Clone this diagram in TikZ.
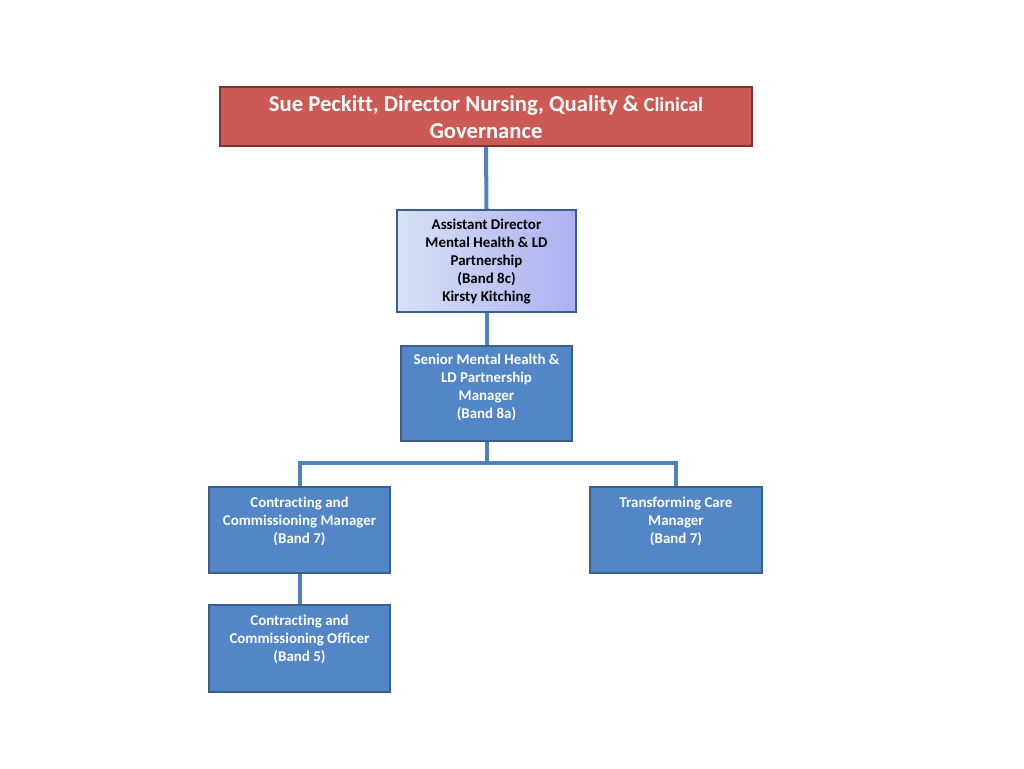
\documentclass[tikz,border=0pt]{standalone}
\usepackage{fontspec}
\setmainfont{Carlito}[Ligatures={NoCommon}]
\usetikzlibrary{positioning}
\definecolor{redfill}{HTML}{CD5955}
\definecolor{redline}{HTML}{7E3331}
\definecolor{bluefill}{HTML}{5286C6}
\definecolor{blueline}{HTML}{3A5F8C}
\definecolor{conn}{HTML}{4F81BD}
\definecolor{lightA}{HTML}{D6E2F5}
\definecolor{lightB}{HTML}{ADB0F0}
\tikzset{
  x=0.75pt, y=-0.75pt,
  box/.style={draw=blueline, line width=1.6pt, fill=bluefill, inner sep=0pt},
  redbox/.style={draw=redline, line width=1.6pt, fill=redfill, inner sep=0pt},
  lightbox/.style={draw=blueline, line width=1.6pt, left color=lightA, right color=lightB, inner sep=0pt},
  txt/.style={anchor=north, inner sep=0pt, align=center, font=\bfseries\fontsize{11.2pt}{13.5pt}\selectfont, text=white},
  link/.style={draw=conn, line width=3pt},
}
\begin{document}
\begin{tikzpicture}
\useasboundingbox (0,0) rectangle (1024,768);
% boxes
\node[redbox, minimum width=532*0.75pt, minimum height=59*0.75pt] (top) at (486,116.5) {};
\node[lightbox, minimum width=179*0.75pt, minimum height=102*0.75pt] (ad) at (486.5,261) {};
\node[box, minimum width=171*0.75pt, minimum height=95*0.75pt] (sen) at (486.5,393.5) {};
\node[box, minimum width=181*0.75pt, minimum height=86*0.75pt] (ccm) at (299.5,530) {};
\node[box, minimum width=172*0.75pt, minimum height=86*0.75pt] (tcm) at (676,530) {};
\node[box, minimum width=181*0.75pt, minimum height=87*0.75pt] (cco) at (299.5,648.5) {};
% connectors
\coordinate (bus) at (486.5,463);
\draw[link] (top.south) -- (ad.north);
\draw[link] (ad.south) -- (sen.north);
\draw[link] (sen.south) -- (bus);
\draw[link] (ccm.north) |- (bus) -| (tcm.north);
\draw[link] (ccm.south) -- (cco.north);
% texts
\node[txt, font=\bfseries\fontsize{17pt}{20.25pt}\selectfont] (ttop) at (486,95)
  {Sue Peckitt, Director Nursing, Quality \& {\fontsize{15pt}{20.25pt}\selectfont Clinical}\\Governance};
\node[txt, text=black] (tad) at (486.5,219) {Assistant Director\\Mental Health \& LD\\Partnership\\ (Band 8c)\\Kirsty Kitching};
\node[txt] (tsen) at (486.5,354) {Senior Mental Health \&\\LD Partnership\\Manager\\(Band 8a)};
\node[txt] (tccm) at (299.5,497) {Contracting and\\Commissioning Manager\\(Band 7)};
\node[txt] (ttcm) at (676,497) {Transforming Care\\Manager\\(Band 7)};
\node[txt] (tcco) at (299.5,615) {Contracting and\\Commissioning Officer\\(Band 5)};
\end{tikzpicture}
\end{document}
